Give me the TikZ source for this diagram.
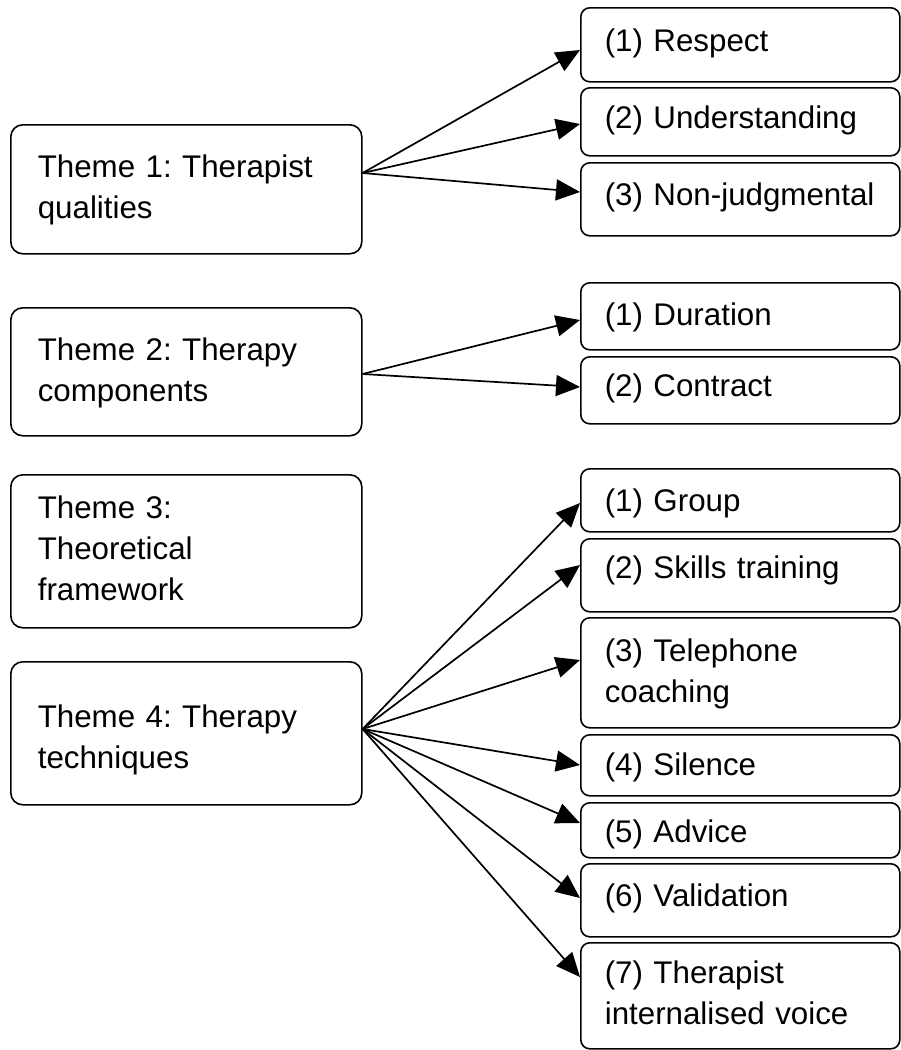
\documentclass[tikz,border=0pt]{standalone}
\usepackage{fontspec}
\setmainfont{Liberation Sans}
\usetikzlibrary{arrows.meta}

\tikzset{
  themebox/.style 2 args={draw, line width=1.6pt, rounded corners=12pt, anchor=north west,
    inner xsep=27pt, inner ysep=0pt, text width=297pt, align=left,
    text height=#1, text depth=#2},
  subbox/.style 2 args={draw, line width=1.6pt, rounded corners=9pt, anchor=north west,
    inner xsep=24pt, inner ysep=0pt, text width=271pt, align=left,
    text height=#1, text depth=#2},
  link/.style={line width=1.7pt, -{Triangle[length=24pt,width=21pt]}}
}

\begin{document}
\begin{tikzpicture}[x=1pt, y=-1pt, font=\fontsize{31.3}{41}\selectfont\frenchspacing]
                \useasboundingbox (0,0) rectangle (901,1050);
                % themes
                \node[themebox={53pt}{76pt}] (theme1) at (10,124) {Theme 1: Therapist\\qualities};
                \node[themebox={53pt}{75pt}] (theme2) at (10,307) {Theme 2: Therapy\\components};
                \node[themebox={44pt}{109pt}] (theme3) at (10,474) {Theme 3:\\Theoretical\\framework};
                \node[themebox={66pt}{77pt}] (theme4) at (10,661) {Theme 4: Therapy\\techniques};
                % sub-themes
                \node[subbox={44pt}{30pt}] (respect) at (580,7) {(1) Respect};
                \node[subbox={41pt}{27pt}] (understanding) at (580,87) {(2) Understanding};
                \node[subbox={43pt}{30pt}] (nonjudg) at (580,162) {(3) Non-judgmental};
                \node[subbox={43pt}{24pt}] (duration) at (580,282) {(1) Duration};
                \node[subbox={40pt}{27pt}] (contract) at (580,356) {(2) Contract};
                \node[subbox={43pt}{20pt}] (group) at (580,468) {(1) Group};
                \node[subbox={40pt}{33pt}] (skills) at (580,538) {(2) Skills training};
                \node[subbox={44pt}{66pt}] (phone) at (580,617) {(3) Telephone\\coaching};
                \node[subbox={41pt}{20pt}] (silence) at (580,734) {(4) Silence};
                \node[subbox={40pt}{15pt}] (advice) at (580,802) {(5) Advice};
                \node[subbox={43pt}{30pt}] (validation) at (580,863) {(6) Validation};
                \node[subbox={41pt}{65pt}] (voice) at (580,942) {(7) Therapist\\internalised voice};
                % arrows
                \draw[link] ([yshift=-49pt]theme1.north east) -- ([yshift=-43pt]respect.north west);
                \draw[link] ([yshift=-49pt]theme1.north east) -- ([yshift=-37pt]understanding.north west);
                \draw[link] ([yshift=-49pt]theme1.north east) -- ([yshift=-30pt]nonjudg.north west);
                \draw[link] ([yshift=-67pt]theme2.north east) -- ([yshift=-38pt]duration.north west);
                \draw[link] ([yshift=-67pt]theme2.north east) -- ([yshift=-31pt]contract.north west);
                \draw[link] ([yshift=-68pt]theme4.north east) -- ([yshift=-35pt]group.north west);
                \draw[link] ([yshift=-68pt]theme4.north east) -- ([yshift=-27pt]skills.north west);
                \draw[link] ([yshift=-68pt]theme4.north east) -- ([yshift=-43pt]phone.north west);
                \draw[link] ([yshift=-68pt]theme4.north east) -- ([yshift=-31pt]silence.north west);
                \draw[link] ([yshift=-68pt]theme4.north east) -- ([yshift=-21pt]advice.north west);
                \draw[link] ([yshift=-68pt]theme4.north east) -- ([yshift=-35pt]validation.north west);
                \draw[link] ([yshift=-68pt]theme4.north east) -- ([yshift=-35pt]voice.north west);
            \end{tikzpicture}
\end{document}
